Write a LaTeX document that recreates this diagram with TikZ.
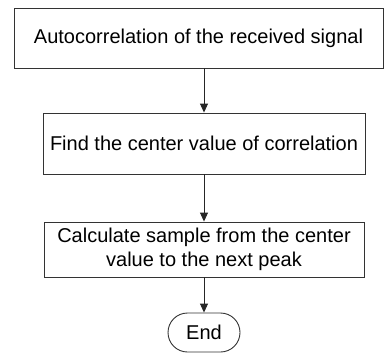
\documentclass[tikz,border=0pt]{standalone}
\usepackage{fontspec}
\setmainfont{Liberation Sans}
\usetikzlibrary{arrows.meta,shapes.misc}
\begin{document}
\begin{tikzpicture}[x=1pt,y=-1pt,
  box/.style={draw=black!80,line width=0.9pt,inner sep=0pt,align=center,font=\fontsize{20}{24}\selectfont},
  term/.style={draw=black!80,line width=0.9pt,rounded rectangle,inner sep=0pt,font=\fontsize{20}{24}\selectfont},
  arr/.style={draw=black!85,line width=0.9pt,-{Triangle[length=9pt,width=8pt]}}]
\useasboundingbox (0,0) rectangle (385,353);
\node[box,minimum width=369pt,minimum height=60pt] (b1) at (198.5,38) {Autocorrelation of the received signal};
\node[box,minimum width=322pt,minimum height=61pt] (b2) at (204,143.5) {Find the center value of correlation};
\node[box,minimum width=320pt,minimum height=55pt] (b3) at (204,249.5) {Calculate sample from the center\\value to the next peak};
\node[term,minimum width=72pt,minimum height=39pt] (e) at (204,332.5) {End};
\draw[arr] (b1.south -| b2.north) -- (b2.north);
\draw[arr] (b2.south) -- (b3.north);
\draw[arr] (b3.south) -- (e.north);
\end{tikzpicture}
\end{document}
